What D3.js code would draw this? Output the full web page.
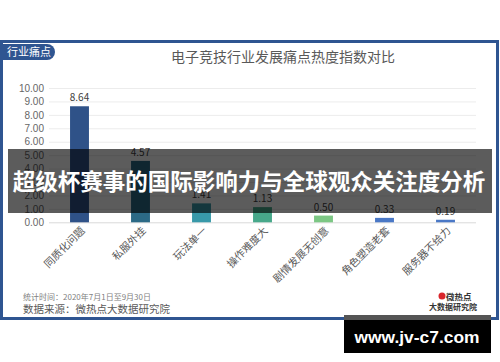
<!DOCTYPE html>
<html>
<head>
<meta charset="utf-8">
<script src="https://cdn.jsdelivr.net/npm/d3@7"></script>
<style>
  body { margin: 0; background: #fff; }
  svg { display: block; font-family: "Noto Sans CJK SC", "Noto Sans", sans-serif; }
</style>
</head>
<body>
<script>
// chart data
var categories = ["同质化问题", "私服外挂", "玩法单一", "操作难度大", "剧情发展无创意", "角色塑造老套", "服务器不给力"];
var values = [8.64, 4.57, 1.41, 1.13, 0.50, 0.33, 0.19];
var yTicks = [0, 1, 2, 3, 4, 5, 6, 7, 8, 9, 10];
var palette = ["#2f5288", "#2c6a86", "#3899a9", "#47a88a", "#7cc784", "#4a78c6", "#4a78c6"];

main();

function main() {
  setupCanvasSize();
  appendSvg("body");
  drawFrame();
  setupScales();
  appendYAxis();
  appendBars();
  appendXLabels();
  addTitle();
  addFooter();
  addOverlay();
}

function setupCanvasSize() {
  margin = { top: 88, left: 49, right: 24, bottom: 140 };
  W = 500; H = 362;
  width = W - margin.left - margin.right;
  height = 222.3 - margin.top;
}

function appendSvg(domElement) {
  root = d3.select(domElement).append("svg")
    .attr("width", W)
    .attr("height", H);
  svg = root.append("g")
    .attr("transform", `translate(${margin.left}, ${margin.top})`);
}

function drawFrame() {
  // outer blue frame
  root.insert("rect", ":first-child")
    .attr("x", 1.5).attr("y", 41.5)
    .attr("width", 496).attr("height", 277)
    .attr("fill", "#fff")
    .attr("stroke", "#2f5591")
    .attr("stroke-width", 3);
  // badge
  root.append("path")
    .attr("d", "M3,44 H47 A8,8 0 0 1 47,60 H3 Z")
    .attr("fill", "#2f5591");
  root.append("text")
    .attr("x", 7).attr("y", 56)
    .attr("fill", "#fff")
    .style("font-size", "11px")
    .text("行业痛点");
}

function setupScales() {
  x = d3.scaleBand()
    .domain(categories)
    .range([0, width])
    .paddingInner(0.69)
    .paddingOuter(0.345);
  y = d3.scaleLinear()
    .domain([0, 10])
    .range([height, 0]);
}

function appendYAxis() {
  var ax = svg.append("g")
    .call(d3.axisLeft(y)
      .tickValues(yTicks)
      .tickFormat(d3.format(".2f"))
      .tickSize(-width)
      .tickPadding(5));
  ax.select(".domain").remove();
  ax.selectAll(".tick line")
    .attr("stroke", function (d) { return d === 0 ? "#d9d9d9" : "#ececec"; });
  ax.selectAll(".tick text")
    .attr("fill", "#666")
    .style("font-size", "10px");
}

function appendBars() {
  svg.selectAll("rect.bar")
    .data(values)
    .enter()
    .append("rect")
    .attr("class", "bar")
    .attr("x", function (d, i) { return x(categories[i]); })
    .attr("y", function (d) { return y(d); })
    .attr("width", x.bandwidth())
    .attr("height", function (d) { return height - y(d); })
    .attr("fill", function (d, i) { return palette[i]; });

  svg.selectAll("text.val")
    .data(values)
    .enter()
    .append("text")
    .attr("class", "val")
    .attr("x", function (d, i) { return x(categories[i]) + x.bandwidth() / 2; })
    .attr("y", function (d) { return y(d) - 5; })
    .attr("text-anchor", "middle")
    .attr("fill", "#404040")
    .style("font-size", "10px")
    .text(function (d) { return d.toFixed(2); });
}

function appendXLabels() {
  svg.selectAll("text.cat")
    .data(categories)
    .enter()
    .append("text")
    .attr("class", "cat")
    .attr("text-anchor", "end")
    .attr("transform", function (d) {
      return `translate(${x(d) + x.bandwidth() / 2 + 6}, ${height + 9}) rotate(-45)`;
    })
    .attr("fill", "#595959")
    .style("font-size", "10.5px")
    .text(function (d) { return d; });
}

function addTitle() {
  root.append("text")
    .attr("x", 283).attr("y", 62)
    .attr("text-anchor", "middle")
    .attr("fill", "#595959")
    .style("font-size", "14px")
    .text("电子竞技行业发展痛点热度指数对比");
}

function addFooter() {
  root.append("text")
    .attr("x", 23).attr("y", 300)
    .attr("fill", "#7f7f7f")
    .style("font-size", "8px")
    .text("统计时间：2020年7月1日至9月30日");
  root.append("text")
    .attr("x", 23).attr("y", 313)
    .attr("fill", "#595959")
    .style("font-size", "10.5px")
    .text("数据来源：微热点大数据研究院");
  // logo
  root.append("circle")
    .attr("cx", 442).attr("cy", 296).attr("r", 3.5)
    .attr("fill", "#d9262c");
  root.append("text")
    .attr("x", 446).attr("y", 300)
    .attr("fill", "#333")
    .style("font-size", "8.5px")
    .style("font-weight", "bold")
    .text("微热点");
  root.append("text")
    .attr("x", 429).attr("y", 310)
    .attr("fill", "#333")
    .style("font-size", "8px")
    .style("font-weight", "bold")
    .text("大数据研究院");
}

function addOverlay() {
  root.append("rect")
    .attr("x", 8).attr("y", 149)
    .attr("width", 484).attr("height", 64)
    .attr("fill", "rgba(0,0,0,0.64)");
  root.append("text")
    .attr("x", 249).attr("y", 190)
    .attr("text-anchor", "middle")
    .attr("fill", "#fff")
    .style("font-size", "22.5px")
    .style("font-weight", "bold")
    .text("超级杯赛事的国际影响力与全球观众关注度分析");

  root.append("rect")
    .attr("x", 344).attr("y", 315)
    .attr("width", 147).attr("height", 38)
    .attr("fill", "#000");
  root.append("rect")
    .attr("x", 344).attr("y", 315)
    .attr("width", 147).attr("height", 5)
    .attr("fill", "#555");
  root.append("text")
    .attr("x", 417).attr("y", 343)
    .attr("text-anchor", "middle")
    .attr("fill", "#fff")
    .style("font-size", "17px")
    .style("font-weight", "bold")
    .style("font-family", "\"Liberation Sans\", sans-serif")
    .attr("textLength", 125)
    .attr("lengthAdjust", "spacingAndGlyphs")
    .text("www.jv-c7.com");
}
</script>
</body>
</html>
